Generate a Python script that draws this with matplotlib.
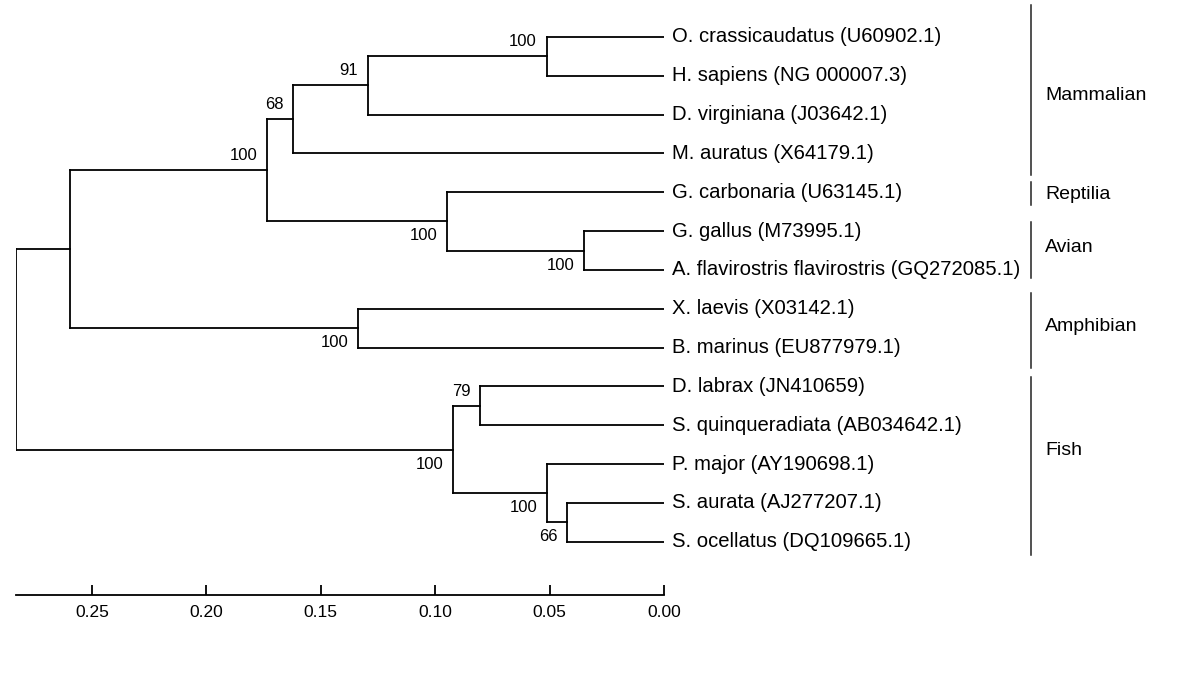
import matplotlib.pyplot as plt

plt.rcParams['font.family'] = ['Liberation Sans', 'DejaVu Sans']

# leaves, top to bottom
leaves = [
    'O. crassicaudatus (U60902.1)',
    'H. sapiens (NG 000007.3)',
    'D. virginiana (J03642.1)',
    'M. auratus (X64179.1)',
    'G. carbonaria (U63145.1)',
    'G. gallus (M73995.1)',
    'A. flavirostris flavirostris (GQ272085.1)',
    'X. laevis (X03142.1)',
    'B. marinus (EU877979.1)',
    'D. labrax (JN410659)',
    'S. quinqueradiata (AB034642.1)',
    'P. major (AY190698.1)',
    'S. aurata (AJ277207.1)',
    'S. ocellatus (DQ109665.1)',
]

# internal nodes: name -> (children, height, bootstrap)
# children are leaf indices or node names
nodes = {
    'oh':    ((0, 1), 0.0513, 100),
    'n91':   (('oh', 2), 0.1295, 91),
    'n68':   (('n91', 3), 0.1620, 68),
    'avian': ((5, 6), 0.0350, 100),
    'rept':  ((4, 'avian'), 0.0948, 100),
    'amn':   (('n68', 'rept'), 0.1734, 100),
    'amph':  ((7, 8), 0.1337, 100),
    'tetra': (('amn', 'amph'), 0.2594, None),
    'n79':   ((9, 10), 0.0804, 79),
    'n66':   ((12, 13), 0.0423, 66),
    'pss':   ((11, 'n66'), 0.0510, 100),
    'fish':  (('n79', 'pss'), 0.0921, 100),
    'root':  (('tetra', 'fish'), 0.2832, None),
}

groups = ['Mammalian', 'Reptilia', 'Avian', 'Amphibian', 'Fish']
group_leaves = [(0, 3), (4, 4), (5, 6), (7, 8), (9, 13)]

scale_ticks = [0.25, 0.20, 0.15, 0.10, 0.05, 0.00]

# bootstrap label placement (above / below the incoming branch)
label_above = {'oh', 'n91', 'n68', 'amn', 'n79'}

# bar extents / label rows for the group brackets (in leaf rows)
bar_spans = [(-0.82, 3.56), (3.74, 4.33), (4.77, 6.21), (6.6, 8.53), (8.76, 13.35)]
group_label_y = [1.52, 4.07, 5.42, 7.45, 10.65]


def node_y(key, cache={}):
    if isinstance(key, int):
        return key
    if key not in cache:
        kids = nodes[key][0]
        cache[key] = (node_y(kids[0]) + node_y(kids[-1])) / 2
    return cache[key]


def node_x(key):
    return 0.0 if isinstance(key, int) else nodes[key][1]


fig = plt.figure(figsize=(12, 6.92), dpi=100)
ax = fig.add_axes([16 / 1200, 97 / 692, 648 / 1200, 595 / 692])
ax.set_xlim(0.2832, 0)
ax.set_ylim(14.37, -0.95)

lw = 1.3
for name, (kids, h, boot) in nodes.items():
    y = node_y(name)
    ys = [node_y(k) for k in kids]
    ax.plot([h, h], [min(ys), max(ys)], color='black', lw=lw, solid_capstyle='projecting')
    for k in kids:
        ax.plot([h, node_x(k)], [node_y(k), node_y(k)], color='black', lw=lw,
                solid_capstyle='projecting')
    if boot is not None:
        dy = 10.5 if name in label_above else -10.5
        ax.annotate(str(boot), (h, y), xytext=(-7, dy), textcoords='offset points',
                    ha='right', va='center', fontsize=12)

for i, name in enumerate(leaves):
    ax.annotate(name, (0, i), xytext=(6, 0), textcoords='offset points',
                ha='left', va='center', fontsize=14.6, annotation_clip=False)

# group brackets
bar_x = (664 - 1030.5) / 2288
text_x = (664 - 1045) / 2288
for g, (top, bot), ly in zip(groups, bar_spans, group_label_y):
    ax.plot([bar_x, bar_x], [top, bot], color='#222222', lw=1.1, clip_on=False)
    ax.text(text_x, ly, g, ha='left', va='center', fontsize=14)

# scale bar
for s in ['top', 'left', 'right']:
    ax.spines[s].set_visible(False)
ax.spines['bottom'].set_bounds(0, 0.2832)
ax.spines['bottom'].set_linewidth(1.3)
ax.set_yticks([])
ax.set_xticks(scale_ticks)
ax.set_xticklabels(['%.2f' % t for t in scale_ticks], fontsize=12.5)
ax.tick_params(axis='x', direction='in', length=7, width=1.3, pad=7)

fig.savefig('out.png', dpi=100)
